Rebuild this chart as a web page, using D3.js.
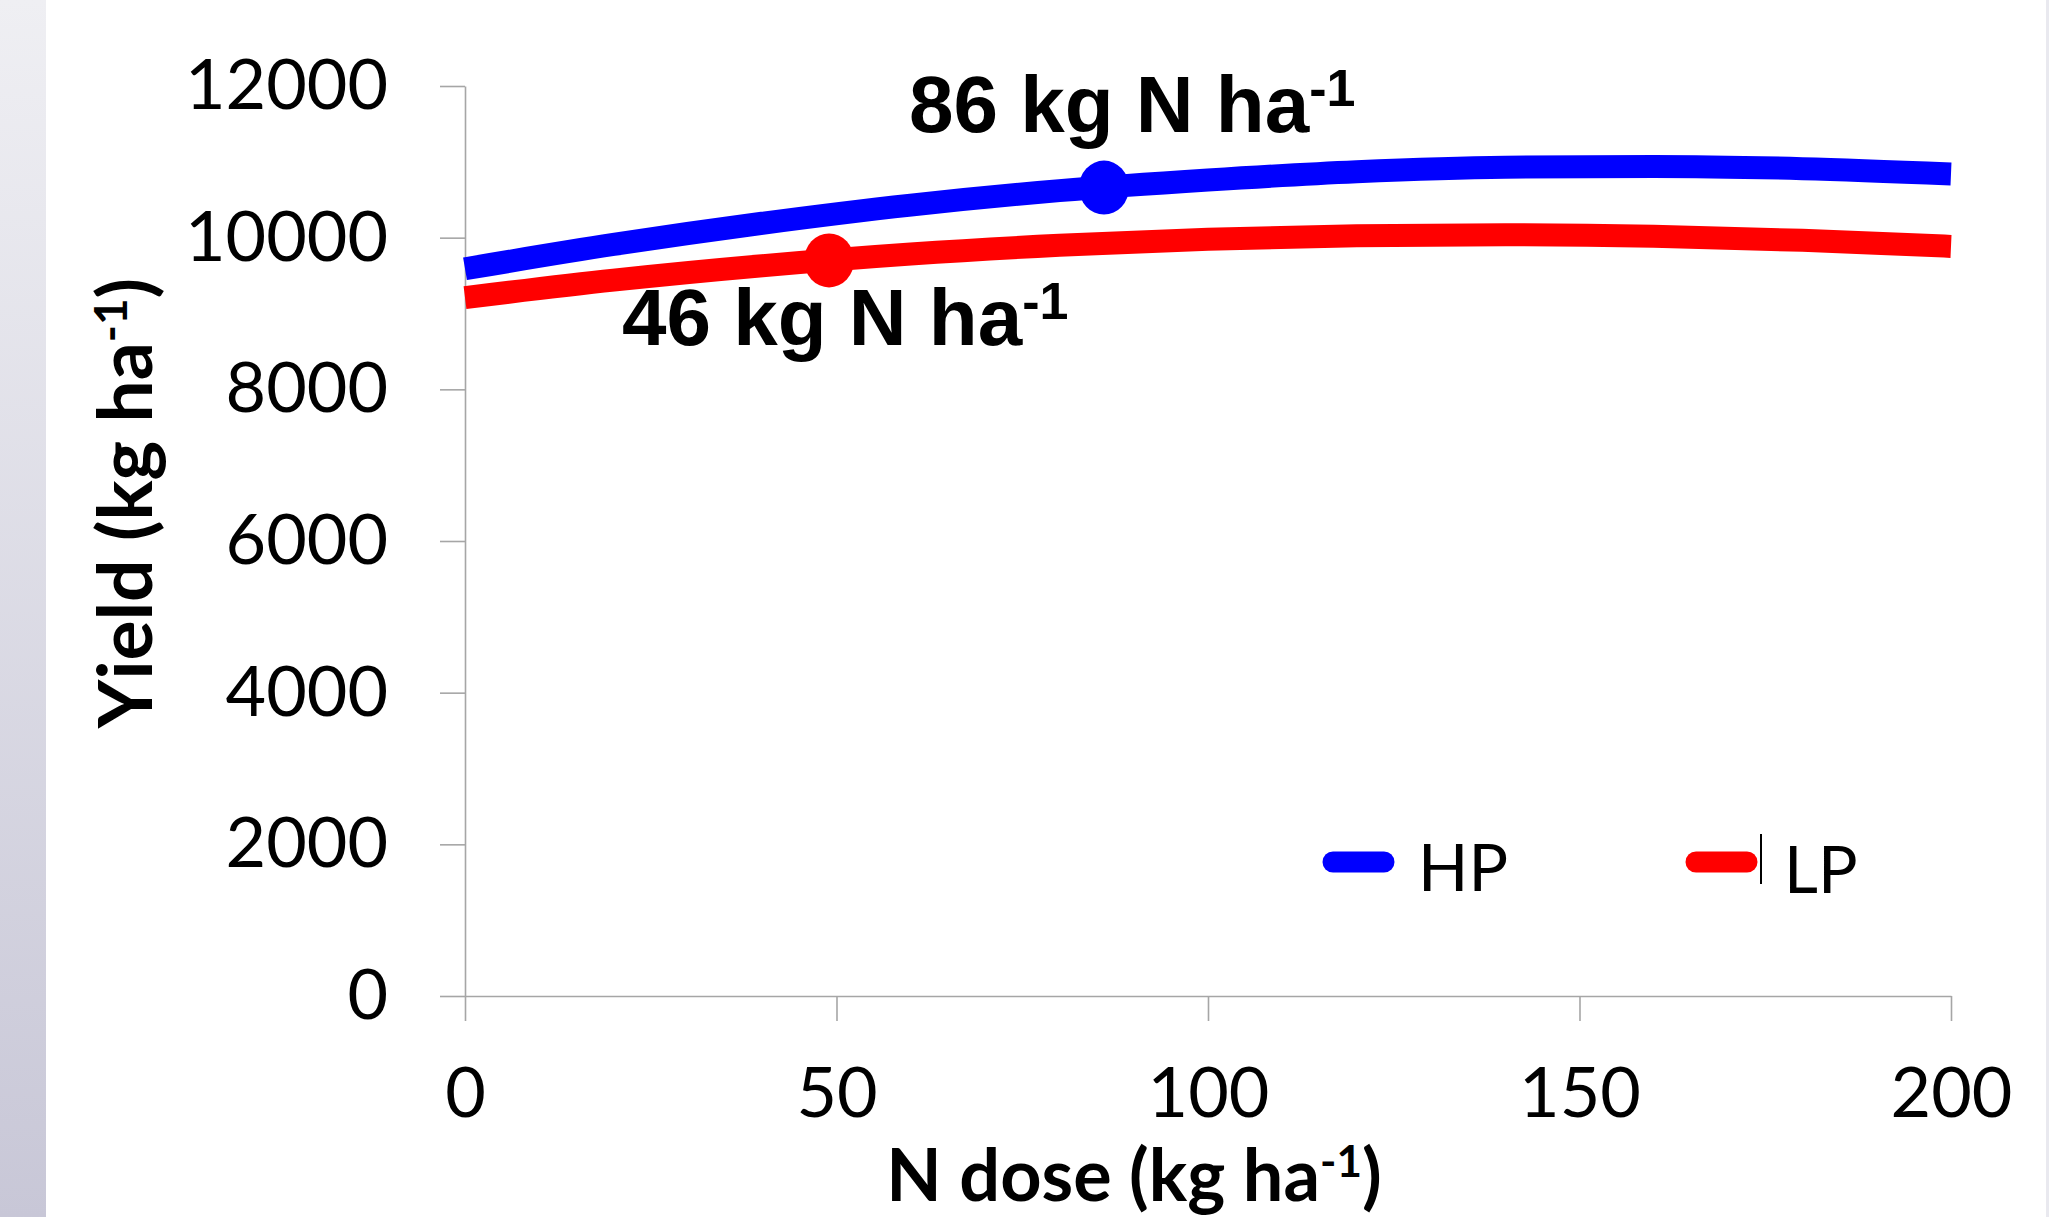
<!DOCTYPE html>
<html>
<head>
<meta charset="utf-8">
<script src="https://cdn.jsdelivr.net/npm/d3@7"></script>
<style>
  body { margin: 0; background: #fff; }
  svg { display: block; }
</style>
</head>
<body>
<div id="chart"></div>
<script>
// data
var nDose = [0, 20, 40, 60, 80, 100, 120, 140, 160, 180, 200];
var hpYield = [9590, 9910, 10190, 10430, 10620, 10760, 10870, 10930, 10940, 10910, 10840];
var lpYield = [9210, 9440, 9630, 9785, 9900, 9980, 10025, 10040, 10020, 9965, 9885];
var seriesNames = ["HP", "LP"];
var seriesColors = ["#0000ff", "#ff0000"];
var optDose = [86, 49];
var optYield = [10660, 9700];
var optLabels = ["86 kg N ha", "46 kg N ha"];
var xTicks = [0, 50, 100, 150, 200];
var yTicks = [0, 2000, 4000, 6000, 8000, 10000, 12000];

var W = 2049, H = 1217;
var margin = {top: 86, right: 98, bottom: 221, left: 465},
    width = W - margin.left - margin.right,
    height = H - margin.top - margin.bottom;

var tickFont = "Lato, 'Open Sans', sans-serif";
var labelFont = "'Liberation Sans', Arial, sans-serif";

var x = d3.scaleLinear().domain([0, 200]).range([0, width]);
var y = d3.scaleLinear().domain([0, 12000]).range([height, 0]);

var root = d3.select("#chart").append("svg")
    .attr("width", W)
    .attr("height", H);

// slide edge strips
var grad = root.append("defs").append("linearGradient")
    .attr("id", "edge")
    .attr("x1", 0).attr("y1", 0).attr("x2", 0).attr("y2", 1);
grad.append("stop").attr("offset", "0%").attr("stop-color", "#efeff3");
grad.append("stop").attr("offset", "100%").attr("stop-color", "#c8c7d7");
root.append("rect").attr("x", 0).attr("y", 0).attr("width", 46).attr("height", H)
    .attr("fill", "url(#edge)");
root.append("rect").attr("x", 2046).attr("y", 0).attr("width", 3).attr("height", H)
    .attr("fill", "#e9e9ef");

var svg = root.append("g")
    .attr("transform", "translate(" + margin.left + "," + margin.top + ")");

// axes
var xAxis = svg.append("g")
    .attr("transform", "translate(0," + height + ")")
    .call(d3.axisBottom(x).tickValues(xTicks).tickFormat(d3.format("d"))
      .tickSize(25).tickSizeOuter(0).tickPadding(46));

var yAxis = svg.append("g")
    .call(d3.axisLeft(y).tickValues(yTicks).tickFormat(d3.format("d"))
      .tickSize(25).tickSizeOuter(0).tickPadding(52));

[xAxis, yAxis].forEach(function(a) {
  a.selectAll("path, line").attr("stroke", "#a6a6a6").attr("stroke-width", 1.6);
  a.selectAll("text")
      .attr("font-family", tickFont)
      .attr("font-size", 70)
      .attr("fill", "#000");
});

// curves
var yields = [hpYield, lpYield];
var line = d3.line()
    .x(function(d, i) { return x(nDose[i]); })
    .y(function(d) { return y(d); })
    .curve(d3.curveMonotoneX);

svg.selectAll(".curve")
    .data(yields)
    .enter()
    .append("path")
    .attr("class", "curve")
    .attr("d", line)
    .attr("fill", "none")
    .attr("stroke", function(d, i) { return seriesColors[i]; })
    .attr("stroke-width", 23);

// optimum markers
svg.selectAll(".opt")
    .data(optDose)
    .enter()
    .append("ellipse")
    .attr("class", "opt")
    .attr("cx", function(d) { return x(d); })
    .attr("cy", function(d, i) { return y(optYield[i]); })
    .attr("rx", 25)
    .attr("ry", 27)
    .attr("fill", function(d, i) { return seriesColors[i]; });

// optimum labels
var labelOffset = [[-195, -56], [-207, 85]];
optLabels.forEach(function(t, i) {
  var lbl = svg.append("text")
      .attr("x", x(optDose[i]) + labelOffset[i][0])
      .attr("y", y(optYield[i]) + labelOffset[i][1])
      .attr("font-family", labelFont)
      .attr("font-weight", "bold")
      .attr("font-size", 80)
      .attr("fill", "#000")
      .text(t);
  lbl.append("tspan")
      .attr("font-size", 52)
      .attr("dy", -26)
      .text("-1");
});

// legend
var legendX = [858, 1221];
seriesNames.forEach(function(s, i) {
  var lg = svg.append("g").attr("transform", "translate(" + legendX[i] + ",0)");
  lg.append("line")
      .attr("x1", 10).attr("x2", 61)
      .attr("y1", 776).attr("y2", 776)
      .attr("stroke", seriesColors[i])
      .attr("stroke-width", 21)
      .attr("stroke-linecap", "round");
  lg.append("text")
      .attr("x", 95 + i * 3)
      .attr("y", 805 + i * 2)
      .attr("font-family", tickFont)
      .attr("font-size", 66)
      .attr("fill", "#000")
      .text(s);
});
// stray text cursor next to LP
svg.append("line")
    .attr("x1", 1296).attr("x2", 1296)
    .attr("y1", 748).attr("y2", 798)
    .attr("stroke", "#000").attr("stroke-width", 2);

// axis titles
var yTitle = svg.append("text")
    .attr("transform", "translate(" + (-313) + "," + (height / 2 - 38) + ") rotate(-90)")
    .attr("text-anchor", "middle")
    .attr("font-family", tickFont)
    .attr("font-weight", "bold")
    .attr("font-size", 75)
    .attr("fill", "#000")
    .text("Yield (kg ha");
yTitle.append("tspan").attr("font-size", 46).attr("dy", -25).text("-1");
yTitle.append("tspan").attr("dy", 25).text(")");

var xTitle = svg.append("text")
    .attr("x", width / 2 - 74)
    .attr("y", height + 205)
    .attr("text-anchor", "middle")
    .attr("font-family", tickFont)
    .attr("font-weight", "bold")
    .attr("font-size", 72)
    .attr("fill", "#000")
    .text("N dose (kg ha");
xTitle.append("tspan").attr("font-size", 44).attr("dy", -24).text("-1");
xTitle.append("tspan").attr("dy", 24).text(")");
</script>
</body>
</html>
